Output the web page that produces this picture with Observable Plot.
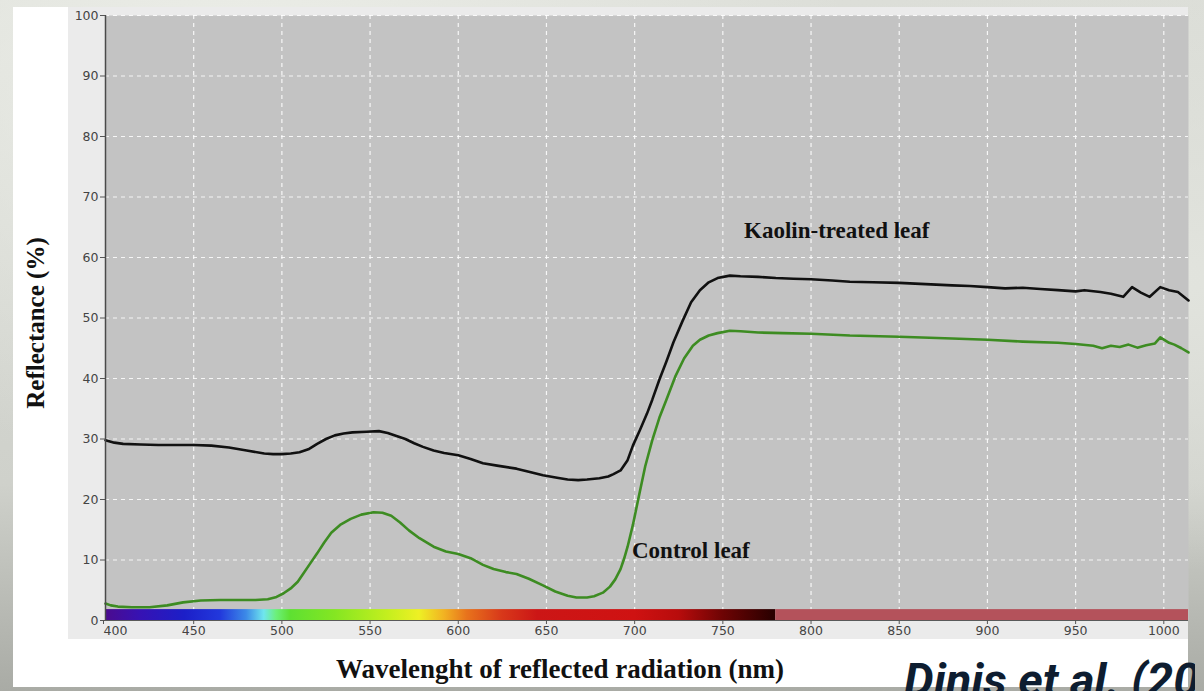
<!DOCTYPE html>
<html>
<head>
<meta charset="utf-8">
<script src="https://cdn.jsdelivr.net/npm/d3@7"></script>
<script src="https://cdn.jsdelivr.net/npm/@observablehq/plot@0.6"></script>
<style>
  html, body { margin: 0; padding: 0; width: 1204px; height: 691px; overflow: hidden; }
  body {
    position: relative;
    background:
      radial-gradient(ellipse at 20% 10%, #eceee8 0%, rgba(236,238,232,0) 45%),
      radial-gradient(ellipse at 95% 40%, #e2e4de 0%, rgba(226,228,222,0) 50%),
      linear-gradient(180deg, #dcded8 0%, #cfd1cb 70%, #a9aba5 100%);
  }
  #panel { position: absolute; left: 13px; top: 7px; width: 1175px; height: 680px; background: #ffffff; }
  #axisbg { position: absolute; left: 55px; top: 0; width: 1120px; height: 632px; background: #ebebeb; }
  #chart { position: absolute; left: 0; top: 0; }
  .title { position: absolute; font-family: "Liberation Serif", "Times New Roman", serif; font-weight: bold; color: #111; white-space: nowrap; }
  #xtitle { left: 560px; top: 654px; font-size: 27px; transform: translateX(-50%); }
  #ytitle { left: 23px; top: 316px; font-size: 25px; transform: translate(-50%, -50%) rotate(-90deg); }
  #credit { position: absolute; left: 0; top: 0; width: 1195px; height: 691px; overflow: hidden; pointer-events: none; }
  #credit span { position: absolute; left: 904px; top: 656px; font-family: Roboto, "Open Sans", sans-serif; font-style: italic; font-weight: 700; font-size: 47px; color: #0e1d30; white-space: nowrap; line-height: 1; }
</style>
</head>
<body>
<div id="panel">
  <div id="axisbg"></div>
  <div id="chart"></div>
  <div class="title" id="ytitle">Reflectance (%)</div>
</div>
<div class="title" id="xtitle">Wavelenght of reflected radiation (nm)</div>
<div id="credit"><span>Dinis et al. (20</span></div>
<script>
// Reflectance spectra (wavelength in nm, reflectance in %)
const kaolinWl = [400,405,410,420,430,440,450,460,470,480,490,495,500,505,510,515,520,525,530,535,540,548,555,560,565,570,575,580,586,592,600,607,614,622,633,640,648,656,662,668,673,680,685,688,692,696,699,703,707,710,714,718,722,727,732,737,742,747,754,760,770,780,790,800,812,822,835,850,865,880,890,900,910,920,930,940,950,955,964,970,977,982,987,992,998,1003,1008,1014];
const kaolinR  = [29.8,29.4,29.2,29.1,29.0,29.0,29.0,28.9,28.6,28.1,27.6,27.5,27.5,27.6,27.8,28.3,29.2,30.0,30.6,30.9,31.1,31.2,31.3,31.0,30.5,30.0,29.3,28.7,28.1,27.7,27.3,26.7,26.0,25.6,25.1,24.6,24.0,23.6,23.3,23.2,23.3,23.5,23.8,24.2,24.8,26.5,28.9,31.5,34.2,36.5,39.8,42.8,46.0,49.4,52.6,54.6,55.9,56.6,57.0,56.9,56.8,56.6,56.5,56.4,56.2,56.0,55.9,55.8,55.6,55.4,55.3,55.1,54.9,55.0,54.8,54.6,54.4,54.6,54.3,54.0,53.5,55.1,54.2,53.5,55.1,54.6,54.3,52.9];

const controlWl = [400,403,407,415,425,435,444,454,465,475,485,492,497,501,505,509,512,516,520,524,528,533,539,545,552,557,562,567,572,578,586,593,600,607,614,620,627,633,640,648,655,662,667,673,677,682,686,689,692,694,696,699,702,706,710,714,718,723,728,733,737,742,747,754,760,770,784,800,822,850,880,900,920,940,950,960,965,970,975,980,985,990,995,998,1003,1006,1010,1014];
const controlR  = [2.8,2.5,2.3,2.2,2.2,2.5,3.0,3.3,3.4,3.4,3.4,3.5,3.9,4.5,5.3,6.4,7.7,9.4,11.1,12.9,14.5,15.8,16.8,17.5,17.9,17.8,17.3,16.2,14.9,13.6,12.2,11.4,11.0,10.3,9.2,8.5,8.0,7.7,6.9,5.8,4.8,4.1,3.8,3.8,4.0,4.6,5.6,6.8,8.5,10.2,12.2,15.8,20.0,25.5,29.8,33.5,36.5,40.3,43.3,45.4,46.4,47.1,47.5,47.9,47.8,47.6,47.5,47.4,47.1,46.9,46.6,46.4,46.1,45.9,45.7,45.4,45.0,45.4,45.2,45.6,45.1,45.5,45.8,46.8,45.9,45.6,45.0,44.3];

// Colour band under the curves: visible spectrum, then near infrared
const visibleRange = [400, 780];
const nirRange = [780, 1014];
const spectrumWl    = [400, 420, 445, 465, 480, 490, 497, 505, 530, 560, 578, 592, 605, 625, 645, 700, 725, 750, 778];
const spectrumColor = ["#4b0b8e", "#3612b4", "#1c1fc8", "#2238dc", "#3c8ae8", "#6fe6ee", "#6cf07a", "#5ee032", "#84e622", "#c4ef1e", "#eef024", "#f2b322", "#e8731c", "#d8381a", "#cc1616", "#cf1212", "#b80c0c", "#6e0404", "#2c0000"];
const nirColor = "#b4525b";

// Axis ticks and grid
const xFirstTick = [400];
const xTicks = [450, 500, 550, 600, 650, 700, 750, 800, 850, 900, 950, 1000];
const yTicks = [0, 10, 20, 30, 40, 50, 60, 70, 80, 90, 100];
const xGrid = [450, 500, 550, 600, 650, 700, 750, 800, 850, 900, 950, 1000];
const yGrid = [10, 20, 30, 40, 50, 60, 70, 80, 90, 100];

// Curve labels
const labelText = ["Kaolin-treated leaf", "Control leaf"];
const labelWl = [762, 698.5];
const labelR = [64.5, 11.6];

const kaolin = kaolinWl.map((wl, i) => ({wl, r: kaolinR[i]}));
const control = controlWl.map((wl, i) => ({wl, r: controlR[i]}));
const labels = labelText.map((text, i) => ({text, wl: labelWl[i], r: labelR[i]}));
const visibleBand = [{x1: visibleRange[0], x2: visibleRange[1]}];
const nirBand = [{x1: nirRange[0], x2: nirRange[1]}];
const bandTop = 1.8;

// Gradient definition for the visible band
function spectrumDefs() {
  const defs = d3.create("svg:defs");
  const grad = defs.append("linearGradient").attr("id", "spectrum")
    .attr("x1", "0").attr("x2", "1").attr("y1", "0").attr("y2", "0");
  spectrumWl.forEach((wl, i) => {
    grad.append("stop")
      .attr("offset", (wl - visibleRange[0]) / (visibleRange[1] - visibleRange[0]))
      .attr("stop-color", spectrumColor[i]);
  });
  return defs.node();
}

const tickStyle = {fontFamily: "DejaVu Sans, Verdana, sans-serif", fontSize: 12.5, fill: "#444", stroke: "#555", label: null, tickFormat: d => String(d)};

const chart = Plot.plot({
  width: 1175,
  height: 680,
  marginLeft: 92,
  marginRight: 0,
  marginTop: 8,
  marginBottom: 67,
  style: {background: "transparent", overflow: "visible", color: "#444"},
  x: {domain: [400, 1014]},
  y: {domain: [0, 100]},
  marks: [
    spectrumDefs,
    Plot.frame({fill: "#c3c3c3", stroke: null}),
    Plot.gridX(xGrid, {stroke: "#ffffff", strokeOpacity: 0.85, strokeDasharray: "4,4", strokeWidth: 1.2}),
    Plot.gridY(yGrid, {stroke: "#ffffff", strokeOpacity: 0.85, strokeDasharray: "4,4", strokeWidth: 1.2}),
    Plot.rect(visibleBand, {x1: "x1", x2: "x2", y1: 0, y2: bandTop, fill: "url(#spectrum)"}),
    Plot.rect(nirBand, {x1: "x1", x2: "x2", y1: 0, y2: bandTop, fill: nirColor}),
    Plot.line(control, {x: "wl", y: "r", stroke: "#3d8c22", strokeWidth: 2.6}),
    Plot.line(kaolin, {x: "wl", y: "r", stroke: "#111111", strokeWidth: 2.6}),
    Plot.text(labels, {x: "wl", y: "r", text: "text", textAnchor: "start", lineAnchor: "middle",
      fontFamily: "Liberation Serif, Times New Roman, serif", fontWeight: "bold", fontSize: 23, fill: "#111"}),
    Plot.ruleX([400], {stroke: "#4a4a4a", strokeWidth: 1.5}),
    Plot.ruleY([0], {stroke: "#5a5a5a", strokeWidth: 1.2}),
    Plot.axisX({...tickStyle, ticks: xFirstTick, tickSize: 4, tickPadding: 2, textAnchor: "start", dx: -2}),
    Plot.axisX({...tickStyle, ticks: xTicks, tickSize: 4, tickPadding: 2}),
    Plot.axisY({...tickStyle, ticks: yTicks, tickSize: 5, tickPadding: 2})
  ]
});
document.getElementById("chart").appendChild(chart);
</script>
</body>
</html>
